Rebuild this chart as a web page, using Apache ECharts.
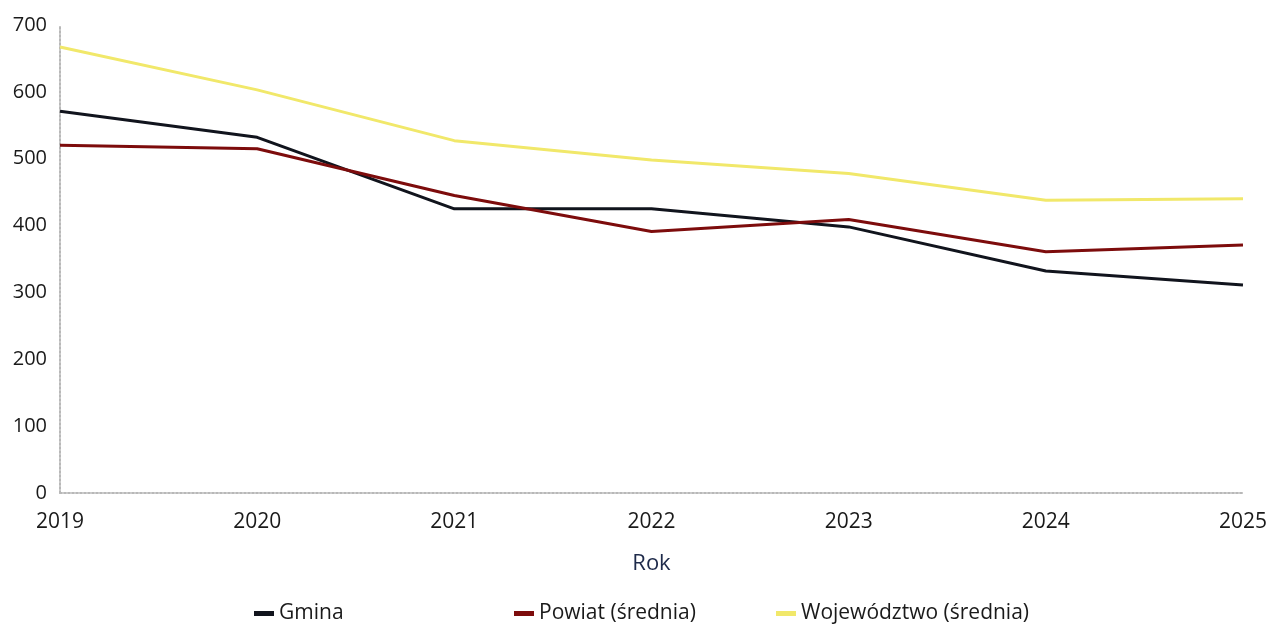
<!DOCTYPE html>
<html>
<head>
<meta charset="utf-8">
<script src="https://cdn.jsdelivr.net/npm/echarts@6/dist/echarts.min.js"></script>
<style>
html,body{margin:0;padding:0;background:#fff;}
#chart{width:1270px;height:624px;}
</style>
</head>
<body>
<div id="chart"></div>
<script>
const years = ['2019','2020','2021','2022','2023','2024','2025'];
const gmina = [571, 532, 425, 425, 398, 332, 311];
const powiat = [520, 515, 445, 391, 409, 361, 371];
const wojewodztwo = [667, 603, 527, 498, 478, 438, 440];
const yTicks = [0, 100, 200, 300, 400, 500, 600, 700];

const FONT = '"Open Sans", "Noto Sans", sans-serif';
const chart = echarts.init(document.getElementById('chart'));
const legendBase = {
  top: 598, itemWidth: 20, itemHeight: 5, itemGap: 0, icon: 'rect',
  textStyle: {fontFamily: FONT, fontSize: 21, color: '#1a1a1a'}
};
chart.setOption({
  animation: false,
  backgroundColor: '#fff',
  grid: {left: 60, right: 24, top: 25, bottom: 131, containLabel: false},
  legend: [
    Object.assign({}, legendBase, {left: 249, data: ['Gmina']}),
    Object.assign({}, legendBase, {left: 509, data: ['Powiat (średnia)']}),
    Object.assign({}, legendBase, {left: 771, data: ['Województwo (średnia)']})
  ],
  xAxis: {
    type: 'category', data: years, boundaryGap: false,
    name: 'Rok', nameLocation: 'middle', nameGap: 60,
    nameTextStyle: {fontFamily: FONT, fontSize: 22, color: '#1e2a4a'},
    axisLine: {lineStyle: {color: '#b8b8b8', width: 2, type: 'dotted'}},
    axisTick: {show: false},
    axisLabel: {fontFamily: FONT, fontSize: 21, color: '#1a1a1a', margin: 19},
    splitLine: {show: false}
  },
  yAxis: {
    type: 'value', min: 0, max: 700, interval: 100,
    axisLine: {show: true, lineStyle: {color: '#b8b8b8', width: 2, type: 'dotted'}},
    axisTick: {show: false},
    axisLabel: {fontFamily: FONT, fontSize: 20, color: '#1a1a1a', margin: 13,
      formatter: v => yTicks.includes(v) ? String(v) : ''},
    splitLine: {show: false}
  },
  series: [
    {name: 'Gmina', type: 'line', data: gmina, symbol: 'none',
     lineStyle: {color: '#11141d', width: 3}, itemStyle: {color: '#11141d'}},
    {name: 'Powiat (średnia)', type: 'line', data: powiat, symbol: 'none',
     lineStyle: {color: '#7d0c0c', width: 3}, itemStyle: {color: '#7d0c0c'}},
    {name: 'Województwo (średnia)', type: 'line', data: wojewodztwo, symbol: 'none',
     lineStyle: {color: '#f1e86a', width: 3}, itemStyle: {color: '#f1e86a'}}
  ]
});
</script>
</body>
</html>
